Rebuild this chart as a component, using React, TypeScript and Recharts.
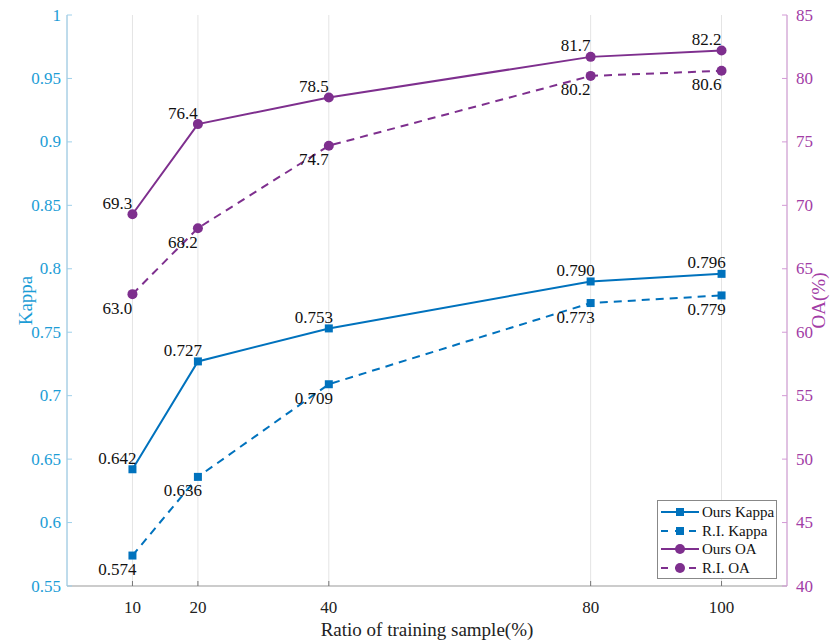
import React from 'react';
import { LineChart, Line, XAxis, YAxis, CartesianGrid, LabelList, Legend } from 'recharts';

const xValues = [10, 20, 40, 80, 100];
const oursKappa = [0.642, 0.727, 0.753, 0.79, 0.796];
const riKappa = [0.574, 0.636, 0.709, 0.773, 0.779];
const oursOA = [69.3, 76.4, 78.5, 81.7, 82.2];
const riOA = [63.0, 68.2, 74.7, 80.2, 80.6];
const kappaTicks = [0.55, 0.6, 0.65, 0.7, 0.75, 0.8, 0.85, 0.9, 0.95, 1];
const oaTicks = [40, 45, 50, 55, 60, 65, 70, 75, 80, 85];
const seriesNames = ['Ours Kappa', 'R.I. Kappa', 'Ours OA', 'R.I. OA'];

const data = xValues.map((x, i) => ({
  x,
  oursKappa: oursKappa[i],
  riKappa: riKappa[i],
  oursOA: oursOA[i],
  riOA: riOA[i],
}));

const FONT = "'Liberation Serif', 'Times New Roman', serif";
const KAPPA_COLOR = '#0072BD';
const OA_COLOR = '#7E2F8E';
const LEFT_TEXT = '#1C9DD6';
const RIGHT_TEXT = '#A23DA6';
const textStyle = { fontFamily: FONT };

const XTick = (props: any) => {
  const { x, y, payload } = props;
  return (
    <g>
      <line x1={x} x2={x} y1={y} y2={y - 5} stroke="#777" />
      <text x={x} y={y + 21} textAnchor="middle" dominantBaseline="central" style={textStyle} fontSize={17} fill="#222">
        {payload.value}
      </text>
    </g>
  );
};

const TopTick = (props: any) => {
  const { x, y } = props;
  return <line x1={x} x2={x} y1={y} y2={y + 5} stroke="#777" />;
};

const LeftTick = (props: any) => {
  const { x, y, payload } = props;
  return (
    <g>
      <line x1={x} x2={x + 5} y1={y} y2={y} stroke="#9fd0ea" />
      <text x={x - 6} y={y} textAnchor="end" dominantBaseline="central" style={textStyle} fontSize={17} fill={LEFT_TEXT}>
        {payload.value}
      </text>
    </g>
  );
};

const RightTick = (props: any) => {
  const { x, y, payload } = props;
  return (
    <g>
      <line x1={x - 5} x2={x} y1={y} y2={y} stroke="#d39ad6" />
      <text x={x + 9} y={y} textAnchor="start" dominantBaseline="central" style={textStyle} fontSize={17} fill={RIGHT_TEXT}>
        {payload.value}
      </text>
    </g>
  );
};

const makeLabel = (pos: 'above' | 'below', digits: number) => (props: any) => {
  const { x, y, value } = props;
  if (x == null || y == null) return null;
  return (
    <text
      x={x - 15}
      y={pos === 'above' ? y - 11 : y + 14}
      textAnchor="middle"
      dominantBaseline="central"
      style={textStyle}
      fontSize={17}
      fill="#111"
    >
      {Number(value).toFixed(digits)}
    </text>
  );
};

const squareDot = (color: string) => (props: any) => {
  const { cx, cy, index } = props;
  return <rect key={`sq-${index}`} x={cx - 4} y={cy - 4} width={8} height={8} fill={color} />;
};

const circleDot = (color: string) => (props: any) => {
  const { cx, cy, index } = props;
  return <circle key={`ci-${index}`} cx={cx} cy={cy} r={5} fill={color} />;
};

const legendDefs = [
  { name: seriesNames[0], color: KAPPA_COLOR, dashed: false, marker: 'square' },
  { name: seriesNames[1], color: KAPPA_COLOR, dashed: true, marker: 'square' },
  { name: seriesNames[2], color: OA_COLOR, dashed: false, marker: 'circle' },
  { name: seriesNames[3], color: OA_COLOR, dashed: true, marker: 'circle' },
];

const LegendBox = () => (
  <div
    style={{
      width: 118,
      height: 75,
      border: '1px solid #888',
      background: '#fff',
      fontFamily: FONT,
      fontSize: 15,
      color: '#111',
      paddingTop: 2,
      boxSizing: 'content-box',
    }}
  >
    {legendDefs.map((d) => (
      <div key={d.name} style={{ display: 'flex', alignItems: 'center', height: 18.5 }}>
        <svg width={42} height={14} style={{ marginLeft: 2, flex: 'none' }}>
          <line
            x1={1}
            x2={39}
            y1={7}
            y2={7}
            stroke={d.color}
            strokeWidth={2}
            strokeDasharray={d.dashed ? '7 7' : undefined}
          />
          {d.marker === 'square' ? (
            <rect x={16} y={3} width={8} height={8} fill={d.color} />
          ) : (
            <circle cx={20} cy={7} r={5} fill={d.color} />
          )}
        </svg>
        <span style={{ lineHeight: '14px', whiteSpace: 'nowrap' }}>{d.name}</span>
      </div>
    ))}
  </div>
);

const LeftAxisLabel = (props: any) => {
  const vb = props.viewBox || {};
  const cy = (vb.y || 0) + (vb.height || 0) / 2;
  return (
    <text x={25} y={cy} transform={`rotate(-90, 25, ${cy})`} textAnchor="middle" dominantBaseline="central" style={textStyle} fontSize={19} fill={LEFT_TEXT}>
      Kappa
    </text>
  );
};

const RightAxisLabel = (props: any) => {
  const vb = props.viewBox || {};
  const cy = (vb.y || 0) + (vb.height || 0) / 2;
  return (
    <text x={818} y={cy} transform={`rotate(-90, 818, ${cy})`} textAnchor="middle" dominantBaseline="central" style={textStyle} fontSize={19} fill={RIGHT_TEXT}>
      OA(%)
    </text>
  );
};

const XAxisLabel = (props: any) => {
  const vb = props.viewBox || {};
  const cx = (vb.x || 0) + (vb.width || 0) / 2;
  return (
    <text x={cx} y={629} textAnchor="middle" dominantBaseline="central" style={textStyle} fontSize={19} fill="#222">
      Ratio of training sample(%)
    </text>
  );
};

export default function App() {
  return (
    <div style={{ position: 'absolute', left: 0, top: 0, width: 833, height: 640, background: '#fff' }}>
      <LineChart width={833} height={640} data={data} margin={{ top: 15, right: 0, bottom: 0, left: 0 }}>
        <CartesianGrid horizontal={false} vertical={true} stroke="#e4e4e4" yAxisId="k" />
        <XAxis
          dataKey="x"
          type="number"
          domain={[0, 110]}
          ticks={xValues}
          height={54}
          tickSize={0}
          tickMargin={0}
          tickLine={false}
          tick={<XTick />}
          axisLine={{ stroke: '#999' }}
          label={<XAxisLabel />}
        />
        <XAxis
          xAxisId="top"
          orientation="top"
          dataKey="x"
          type="number"
          domain={[0, 110]}
          ticks={xValues}
          height={0}
          tickSize={0}
          tickMargin={0}
          tickLine={false}
          tick={<TopTick />}
          axisLine={{ stroke: '#999' }}
        />
        <YAxis
          yAxisId="k"
          orientation="left"
          domain={[0.55, 1]}
          ticks={kappaTicks}
          width={67}
          tickSize={0}
          tickMargin={0}
          tickLine={false}
          tick={<LeftTick />}
          axisLine={{ stroke: '#8cc6e6' }}
          allowDataOverflow
          label={<LeftAxisLabel />}
        />
        <YAxis
          yAxisId="oa"
          orientation="right"
          domain={[40, 85]}
          ticks={oaTicks}
          width={46}
          tickSize={0}
          tickMargin={0}
          tickLine={false}
          tick={<RightTick />}
          axisLine={{ stroke: '#cf92d2' }}
          allowDataOverflow
          label={<RightAxisLabel />}
        />
        <Legend
          layout="horizontal"
          verticalAlign="middle"
          align="center"
          content={<LegendBox />}
          wrapperStyle={{ position: 'absolute', left: 657, top: 500, width: 120, height: 79 }}
        />
        <Line
          yAxisId="k"
          dataKey="oursKappa"
          name={seriesNames[0]}
          stroke={KAPPA_COLOR}
          strokeWidth={2}
          dot={squareDot(KAPPA_COLOR)}
          activeDot={false}
          isAnimationActive={false}
        >
          <LabelList dataKey="oursKappa" content={makeLabel('above', 3)} />
        </Line>
        <Line
          yAxisId="k"
          dataKey="riKappa"
          name={seriesNames[1]}
          stroke={KAPPA_COLOR}
          strokeWidth={2}
          strokeDasharray="8 6"
          dot={squareDot(KAPPA_COLOR)}
          activeDot={false}
          isAnimationActive={false}
        >
          <LabelList dataKey="riKappa" content={makeLabel('below', 3)} />
        </Line>
        <Line
          yAxisId="oa"
          dataKey="oursOA"
          name={seriesNames[2]}
          stroke={OA_COLOR}
          strokeWidth={2}
          dot={circleDot(OA_COLOR)}
          activeDot={false}
          isAnimationActive={false}
        >
          <LabelList dataKey="oursOA" content={makeLabel('above', 1)} />
        </Line>
        <Line
          yAxisId="oa"
          dataKey="riOA"
          name={seriesNames[3]}
          stroke={OA_COLOR}
          strokeWidth={2}
          strokeDasharray="8 6"
          dot={circleDot(OA_COLOR)}
          activeDot={false}
          isAnimationActive={false}
        >
          <LabelList dataKey="riOA" content={makeLabel('below', 1)} />
        </Line>
      </LineChart>
    </div>
  );
}
